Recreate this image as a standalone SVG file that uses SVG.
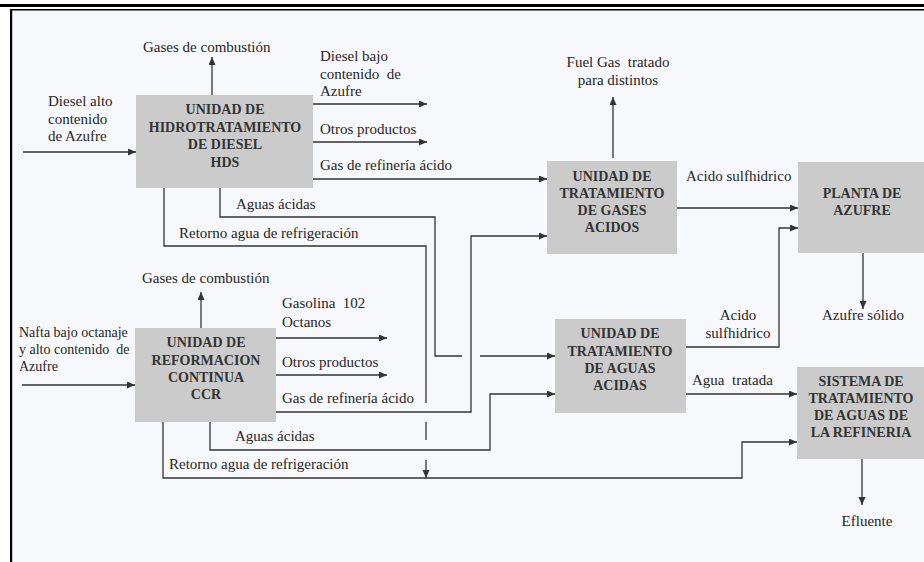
<svg xmlns="http://www.w3.org/2000/svg" width="924" height="562" viewBox="0 0 924 562">
<style>
.lbl{font-family:'Liberation Serif','DejaVu Serif',serif;font-size:15px;fill:#262626}
.sm{font-size:14px}
.mid{text-anchor:middle}
.ttl{font-family:'Liberation Serif','DejaVu Serif',serif;font-size:14px;font-weight:bold;fill:#333;text-anchor:middle}
.box{fill:#cbcbcb}
.ln{fill:none;stroke:#333;stroke-width:1.3}
.ar{marker-end:url(#ah)}
</style>
<defs>
<marker id="ah" markerUnits="userSpaceOnUse" markerWidth="9" markerHeight="8" refX="8" refY="3.5" orient="auto">
<path d="M0,0 L8,3.5 L0,7 z" fill="#333"/>
</marker>
</defs>
<rect x="0" y="0" width="924" height="562" fill="#ffffff"/>
<rect x="11" y="9" width="913" height="553" fill="#f6f8fb"/>
<g id="frame">
<rect x="0" y="4" width="924" height="3" fill="#000"/>
<rect x="10" y="9" width="914" height="1.5" fill="#000"/>
<rect x="10" y="9" width="2.2" height="553" fill="#000"/>
</g>

<g id="connectors">
<path class="ln ar" d="M23,152 H136"/>
<path class="ln ar" d="M212,95 V57"/>
<path class="ln ar" d="M313,104 H427"/>
<path class="ln ar" d="M313,142 H427"/>
<path class="ln ar" d="M313,179 H547"/>
<path class="ln" d="M220,188 V217 H435 V356 H462"/>
<path class="ln ar" d="M480,356 H555"/>
<path class="ln" d="M164,188 V246 H426 V403"/>
<path class="ln" d="M426,422 V440"/>
<path class="ln ar" d="M426,460 V478"/>
<path class="ln ar" d="M22,385 H135"/>
<path class="ln ar" d="M201,328 V292"/>
<path class="ln ar" d="M276,338 H387"/>
<path class="ln ar" d="M276,375 H387"/>
<path class="ln ar" d="M276,412 H471 V236 H547"/>
<path class="ln ar" d="M210,422 V450 H490 V394 H555"/>
<path class="ln ar" d="M163,422 V478 H742 V442 H797"/>
<path class="ln ar" d="M613,158 V97"/>
<path class="ln ar" d="M677,208 H798"/>
<path class="ln ar" d="M686,347 H779 V228 H798"/>
<path class="ln ar" d="M686,394 H797"/>
<path class="ln ar" d="M863,253 V309"/>
<path class="ln ar" d="M862,459 V505"/>
</g>

<g id="hds">
<rect class="box" x="136" y="95" width="177" height="93"/>
<text class="ttl" x="225" y="114">UNIDAD DE</text>
<text class="ttl" x="225" y="131.5">HIDROTRATAMIENTO</text>
<text class="ttl" x="225" y="149">DE DIESEL</text>
<text class="ttl" x="225" y="166.5">HDS</text>
</g>
<g id="ccr">
<rect class="box" x="135" y="328" width="141" height="94"/>
<text class="ttl" x="206" y="347">UNIDAD DE</text>
<text class="ttl" x="206" y="364.5">REFORMACION</text>
<text class="ttl" x="206" y="382">CONTINUA</text>
<text class="ttl" x="206" y="399">CCR</text>
</g>
<g id="gases">
<rect class="box" x="547" y="161" width="130" height="93"/>
<text class="ttl" x="612" y="181">UNIDAD DE</text>
<text class="ttl" x="612" y="198">TRATAMIENTO</text>
<text class="ttl" x="612" y="215">DE GASES</text>
<text class="ttl" x="612" y="232">ACIDOS</text>
</g>
<g id="aguas">
<rect class="box" x="555" y="319" width="131" height="94"/>
<text class="ttl" x="620" y="338">UNIDAD DE</text>
<text class="ttl" x="620" y="355.5">TRATAMIENTO</text>
<text class="ttl" x="620" y="373">DE AGUAS</text>
<text class="ttl" x="620" y="390">ACIDAS</text>
</g>
<g id="planta">
<rect class="box" x="798" y="162" width="126" height="91"/>
<text class="ttl" x="862" y="198">PLANTA DE</text>
<text class="ttl" x="862" y="215">AZUFRE</text>
</g>
<g id="sistema">
<rect class="box" x="797" y="367" width="127" height="92"/>
<text class="ttl" x="861" y="386">SISTEMA DE</text>
<text class="ttl" x="861" y="403">TRATAMIENTO</text>
<text class="ttl" x="861" y="420">DE AGUAS DE</text>
<text class="ttl" x="861" y="437">LA REFINERIA</text>
</g>

<g id="labels">
<text class="lbl" x="143" y="52">Gases de combustión</text>
<text class="lbl" x="48" y="106">Diesel alto</text>
<text class="lbl" x="48" y="123.5">contenido</text>
<text class="lbl" x="48" y="141">de Azufre</text>
<text class="lbl" x="320" y="61">Diesel bajo</text>
<text class="lbl" x="320" y="78.5" xml:space="preserve">contenido  de</text>
<text class="lbl" x="320" y="96">Azufre</text>
<text class="lbl" x="320" y="134">Otros productos</text>
<text class="lbl" x="320" y="170">Gas de refinería ácido</text>
<text class="lbl" x="236" y="209">Aguas ácidas</text>
<text class="lbl" x="179" y="238">Retorno agua de refrigeración</text>

<text class="lbl" x="142" y="283">Gases de combustión</text>
<text class="lbl sm" x="19" y="337">Nafta bajo octanaje</text>
<text class="lbl sm" x="19" y="354" xml:space="preserve">y alto contenido  de</text>
<text class="lbl sm" x="19" y="371">Azufre</text>
<text class="lbl" x="282" y="308" xml:space="preserve">Gasolina  102</text>
<text class="lbl" x="282" y="327">Octanos</text>
<text class="lbl" x="282" y="367">Otros productos</text>
<text class="lbl" x="282" y="403">Gas de refinería ácido</text>
<text class="lbl" x="235" y="441">Aguas ácidas</text>
<text class="lbl" x="169" y="469">Retorno agua de refrigeración</text>

<text class="lbl mid" x="618" y="67" xml:space="preserve">Fuel Gas  tratado</text>
<text class="lbl mid" x="618" y="85">para distintos</text>
<text class="lbl" x="686" y="181">Acido sulfhidrico</text>
<text class="lbl mid" x="863" y="320">Azufre sólido</text>
<text class="lbl mid" x="738" y="320">Acido</text>
<text class="lbl mid" x="738" y="338">sulfhidrico</text>
<text class="lbl" x="692" y="385" xml:space="preserve">Agua  tratada</text>
<text class="lbl mid" x="867" y="526">Efluente</text>
</g>
</svg>
